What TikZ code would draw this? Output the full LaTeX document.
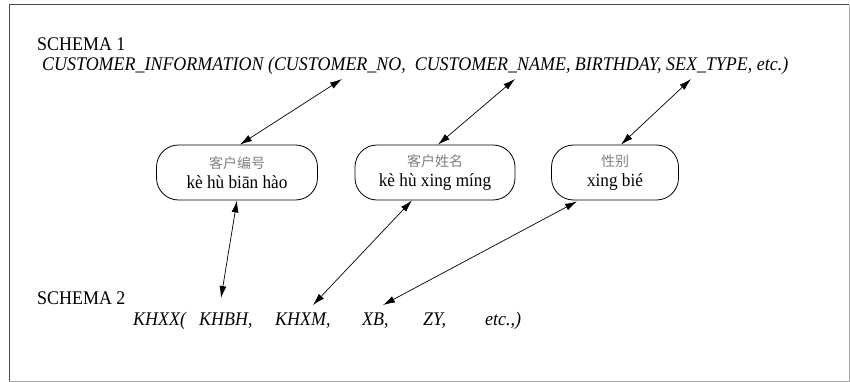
\documentclass[tikz,border=0pt]{standalone}
\usepackage{fontspec}
\setmainfont{Liberation Serif}[FakeStretch=0.93]
\newfontfamily\cjk{Noto Sans CJK SC}
\usetikzlibrary{arrows.meta}
\begin{document}
\begin{tikzpicture}[x=1pt,y=-1pt,
  lbl/.style={anchor=base west,inner sep=0pt,font=\fontsize{19.3}{21}\selectfont},
  itl/.style={anchor=base west,inner sep=0pt,font=\fontsize{19.3}{21}\selectfont\itshape},
  term/.style={draw,line width=0.8pt,rounded corners=22pt,minimum height=55pt,
    align=center,inner sep=0pt,font=\fontsize{18.5}{20}\selectfont},
  link/.style={line width=0.7pt,{Latex[length=12pt,width=7pt]}-{Latex[length=12pt,width=7pt]}}]
\useasboundingbox (0,0) rectangle (850,382);
\draw[black!70,line width=1pt] (9,381) -- (9,5) -- (849,5);
\draw[black!35,line width=1pt] (9,381) -- (849,381) -- (849,5);

\node[lbl] (s1) at (37,51) {SCHEMA 1};
\node[itl] (r1) at (42,71) {CUSTOMER\_INFORMATION (CUSTOMER\_NO,\ \ CUSTOMER\_NAME, BIRTHDAY, SEX\_TYPE, etc.)};

\node[term,minimum width=161pt] (n1) at (237,172.5) {{\cjk\fontsize{14}{16}\selectfont\color{black!50}客户编号}\\[0pt]kè hù biān hào};
\node[term,minimum width=160pt] (n2) at (435,172.5) {{\cjk\fontsize{14}{16}\selectfont\color{black!50}客户姓名}\\[0pt]kè hù xing míng};
\node[term,minimum width=127pt] (n3) at (615,172.5) {{\cjk\fontsize{14}{16}\selectfont\color{black!50}性别}\\[0pt]xing bié};

\node[lbl] (s2) at (37,304) {SCHEMA 2};
\node[itl] (k0) at (133,325) {KHXX(};
\node[itl] (k1) at (199,325) {KHBH,};
\node[itl] (k2) at (275,325) {KHXM,};
\node[itl] (k3) at (362,325) {XB,};
\node[itl] (k4) at (423,325) {ZY,};
\node[itl] (k5) at (485,325) {etc.,)};

\coordinate (t1) at (342,79);
\coordinate (t2) at (515,79);
\coordinate (t3) at (691,79);
\coordinate (b1) at (221,298);
\coordinate (b2) at (313,305);
\coordinate (b3) at (383,305);

\draw[link] (t1) -- ([xshift=3pt]n1.north);
\draw[link] (t2) -- ([xshift=3pt]n2.north);
\draw[link] (t3) -- ([xshift=6pt]n3.north);
\draw[link] (n1.south) -- (b1);
\draw[link] ([xshift=-23pt]n2.south) -- (b2);
\draw[link] ([xshift=-38pt,yshift=-1pt]n3.south) -- (b3);
\end{tikzpicture}
\end{document}
